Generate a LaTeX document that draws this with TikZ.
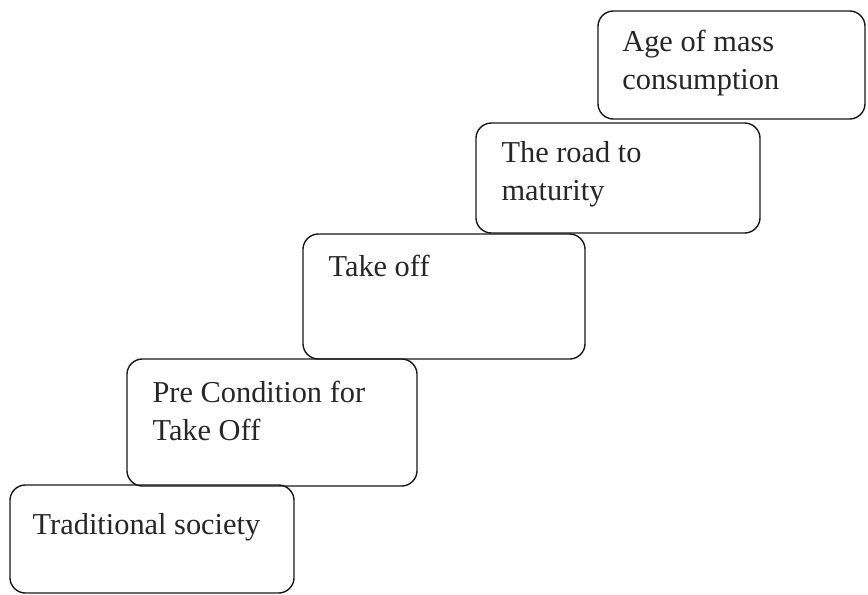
\documentclass[tikz,border=0pt]{standalone}
\usepackage{fontspec}
\setmainfont{Liberation Serif}
\usepackage{tikz}
\usetikzlibrary{positioning}

\begin{document}
\begin{tikzpicture}[
    x=0.025cm, y=-0.025cm,
    stage/.style={
        rectangle, draw=black!90, line width=1pt, rounded corners=11pt,
        inner sep=0pt
    },
    lbl/.style={
        inner sep=0pt, align=left, anchor=north west,
        font=\fontsize{21.6}{27}\selectfont, text=black!85
    }
]
\useasboundingbox (0,0) rectangle (868,594);

\node[stage, minimum width=7.1cm,   minimum height=2.7cm]   (trad) at (152,539)   {};
\node[stage, minimum width=7.25cm,  minimum height=3.175cm] (pre)  at (272,422.5) {};
\node[stage, minimum width=7.05cm,  minimum height=3.125cm] (take) at (444,296.5) {};
\node[stage, minimum width=7.1cm,   minimum height=2.75cm]  (road) at (618,178)   {};
\node[stage, minimum width=6.675cm, minimum height=2.7cm]   (mass) at (731.5,65)  {};

\node[lbl, below right=0.72cm and 0.58cm of trad.north west] (trad-txt) {Traditional society};
\node[lbl, below right=0.56cm and 0.65cm of pre.north west]  (pre-txt)  {Pre Condition for\\Take Off};
\node[lbl, below right=0.54cm and 0.65cm of take.north west] (take-txt) {Take off};
\node[lbl, below right=0.48cm and 0.65cm of road.north west] (road-txt) {The road to\\maturity};
\node[lbl, below right=0.5cm and 0.62cm of mass.north west]  (mass-txt) {Age of mass\\consumption};
\end{tikzpicture}
\end{document}
